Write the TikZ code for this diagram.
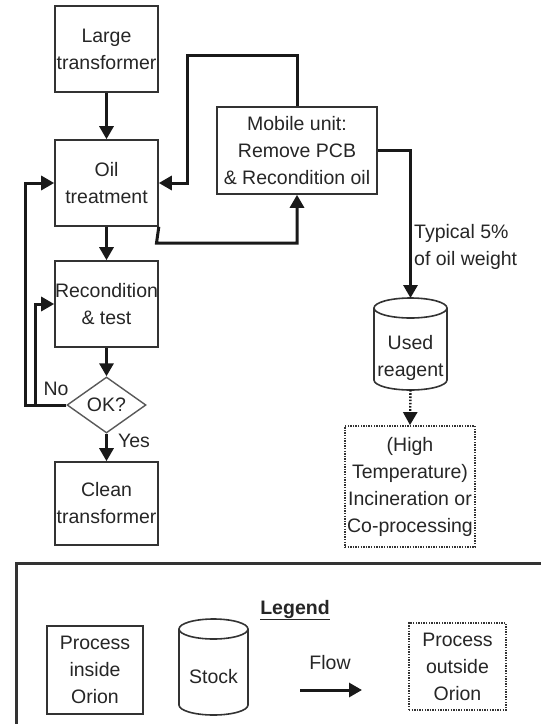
\documentclass[tikz,border=0pt]{standalone}
\usepackage{fontspec}
\setmainfont{Liberation Sans}
\usetikzlibrary{shapes.geometric,arrows.meta}
\newcommand{\drawcyl}[4]{%
  \draw[cylline] (#1-#4,#2+10) -- (#1-#4,#3-10)
    arc[start angle=180,end angle=360,x radius=#4pt,y radius=10pt]
    -- (#1+#4,#2+10)
    arc[start angle=0,end angle=180,x radius=#4pt,y radius=10pt] -- cycle;
  \draw[cylline] (#1-#4,#2+10)
    arc[start angle=180,end angle=360,x radius=#4pt,y radius=10pt];}
\begin{document}
\begin{tikzpicture}[x=1pt,y=-1pt,
  every node/.style={font=\fontsize{19.5}{27}\selectfont, align=center, text=black!85},
  proc/.style={draw=black!80, line width=1.6pt, inner sep=0pt},
  outproc/.style={draw=black!80, line width=1.8pt, dash pattern=on 1.4pt off 1.2pt, inner sep=0pt},
  cylline/.style={draw=black!80, line width=1.6pt},
  decide/.style={diamond, draw=black!65, line width=1.4pt, inner sep=0pt, aspect=1.4},
  flow/.style={draw=black!90, line width=3pt, -{Triangle[length=13pt,width=14pt]}},
  dflow/.style={draw=black!90, line width=2.4pt, dash pattern=on 1.6pt off 1.6pt, -{Triangle[length=13pt,width=14pt]}},
  lbl/.style={inner sep=0pt}
]
\useasboundingbox (0,0) rectangle (541,724);
\clip (0,0) rectangle (541,724);
\fill[white] (0,0) rectangle (541,724);

% main process boxes
\node[proc, minimum width=103pt, minimum height=86pt] (lt) at (106.5,49) {Large\\transformer};
\node[proc, minimum width=103pt, minimum height=86pt] (oil) at (106.5,183) {Oil\\treatment};
\node[proc, minimum width=103pt, minimum height=86pt] (rec) at (106.5,304) {Recondition\\\& test};
\node[decide, minimum width=79pt, minimum height=56pt] (ok) at (106.5,405) {OK?};
\node[proc, minimum width=103pt, minimum height=83pt] (clean) at (106.5,503.5) {Clean\\transformer};
\node[proc, minimum width=160pt, minimum height=87pt] (mob) at (297,150.5) {Mobile unit:\\Remove PCB\\\& Recondition oil};

% used reagent stock
\drawcyl{410.5}{298}{390}{36.5}
\node[lbl] (ur) at (410.5,358) {Used\\reagent};
\coordinate (urtop) at (410.5,298);
\coordinate (urbot) at (410.5,390);

\node[outproc, minimum width=130pt, minimum height=121pt] (out) at (410,486.5) {(High\\Temperature)\\Incineration or\\Co-processing};

% connectors
\draw[flow] (lt) -- (oil);
\draw[flow] (oil) -- (rec);
\draw[flow] (rec) -- (ok);
\draw[flow] (ok) -- (clean);
\draw[flow] (mob.north) -- (297,55) -- (187,55) -- (187,183) -- (oil.east);
\draw[flow] (oil.south east) -- (156.5,243) -- (297,243) -- (mob.south);
\draw[flow] (mob.east) -- (410.5,150.5) -- (urtop);
\draw[dflow] (urbot) -- (out.north);
\draw[flow] (ok.west) -- (25,405) -- (25,183) -- (oil.west);
\draw[flow] (ok.west) -- (35,405) -- (35,304) -- (rec.west);

\node[lbl] (no) at (56,389) {No};
\node[lbl] (yes) at (134,441) {Yes};
\node[lbl, anchor=north west, align=left] (typ) at (414,224) {Typical 5\%\\of oil weight};

% legend
\draw[draw=black!80, line width=3pt] (16,563) rectangle (560,740);
\node[lbl] (leg) at (295,610) {\underline{\textbf{Legend}}};
\node[proc, minimum width=96pt, minimum height=88pt] (lp) at (95,670) {Process\\inside\\Orion};
\drawcyl{213.5}{619}{715}{34.5}
\node[lbl] (ls) at (213.5,677) {Stock};
\coordinate (fa) at (300,690);
\coordinate (fb) at (362,690);
\draw[flow] (fa) -- (fb);
\node[lbl] (lf) at (330,663) {Flow};
\node[outproc, minimum width=97pt, minimum height=87pt] (lo) at (457.5,666.5) {Process\\outside\\Orion};
\end{tikzpicture}
\end{document}
